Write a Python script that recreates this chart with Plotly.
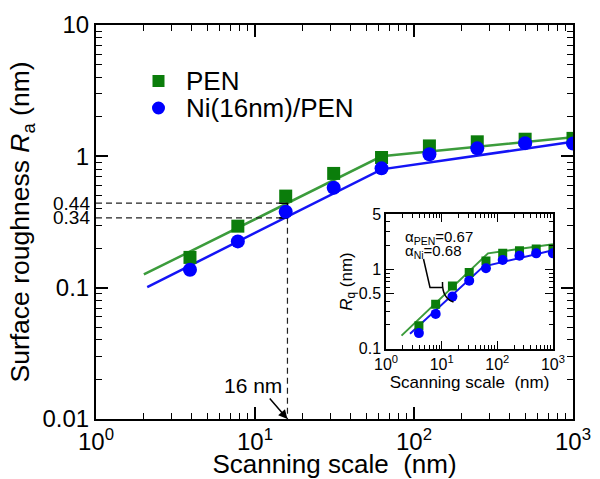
import math
import plotly.graph_objects as go

# ---------------- data ----------------
scan_nm = [3.9, 7.8, 15.6, 31.25, 62.5, 125, 250, 500, 1000]
ra_pen = [0.170, 0.294, 0.498, 0.741, 0.98, 1.20, 1.29, 1.35, 1.37]
ra_ni = [0.137, 0.225, 0.378, 0.577, 0.81, 1.036, 1.15, 1.26, 1.25]

fit_x_pen = [2.0, 62.5, 1000]
fit_ra_pen = [0.126, 1.0, 1.40]
fit_x_ni = [2.1, 62.5, 1000]
fit_ra_ni = [0.101, 0.796, 1.29]

rq_pen = [0.195, 0.366, 0.62, 0.92, 1.28, 1.60, 1.73, 1.82, 1.83]
rq_ni = [0.158, 0.276, 0.456, 0.725, 1.04, 1.32, 1.49, 1.60, 1.60]

inset_fit_x_pen = [1.9, 68, 1000]
inset_fit_rq_pen = [0.147, 1.60, 2.08]
inset_fit_x_ni = [2.7, 56, 1000]
inset_fit_rq_ni = [0.155, 1.09, 1.75]

cutoff_nm = 16
cutoff_ra = [0.44, 0.34]
cutoff_labels = ["0.44", "0.34"]

x_major = [1, 10, 100, 1000]
x_ticktext = ["10<sup>0</sup>", "10<sup>1</sup>", "10<sup>2</sup>", "10<sup>3</sup>"]
y_major = [0.01, 0.1, 1, 10]
y_ticktext = ["0.01", "0.1", "1", "10"]
inset_y_major = [0.1, 0.5, 1, 5]
inset_y_ticktext = ["0.1", "0.5", "1", "5"]

legend_names = ["PEN", "Ni(16nm)/PEN"]
alpha_texts = ["\u03b1<sub>PEN</sub>=0.67", "\u03b1<sub>Ni</sub>=0.68"]

# ---------------- styles ----------------
FONT = "Liberation Sans, Arial, sans-serif"
GREEN_M = "#0b7d0b"
GREEN_L = "#3c9c3c"
BLUE_M = "#0000ff"
BLUE_L = "#1414f5"

x_minor = [m * 10 ** k for k in range(0, 3) for m in range(2, 10)]
y_minor = [m * 10 ** k for k in range(-2, 1) for m in range(2, 10)]
iy_minor = [m * 10 ** k for k in range(-1, 1) for m in range(2, 10) if m * 10 ** k < 5 and m * 10 ** k != 0.5]

fig = go.Figure()

# main fit lines
fig.add_trace(go.Scatter(x=fit_x_pen, y=fit_ra_pen, mode="lines",
                         line=dict(color=GREEN_L, width=2.5), showlegend=False))
fig.add_trace(go.Scatter(x=fit_x_ni, y=fit_ra_ni, mode="lines",
                         line=dict(color=BLUE_L, width=2.5), showlegend=False))

# guide lines
for v in cutoff_ra:
    fig.add_trace(go.Scatter(x=[1, cutoff_nm], y=[v, v], mode="lines",
                             line=dict(color="#222222", width=1.2, dash="6px,4px"),
                             showlegend=False))
fig.add_trace(go.Scatter(x=[cutoff_nm, cutoff_nm], y=[min(cutoff_ra), y_major[0]], mode="lines",
                         line=dict(color="#222222", width=1.2, dash="6px,4px"),
                         showlegend=False))
fig.add_trace(go.Scatter(x=[14.2, cutoff_nm, cutoff_nm, 14.2],
                         y=[cutoff_ra[0], cutoff_ra[0], cutoff_ra[1], cutoff_ra[1]],
                         mode="lines", line=dict(color="black", width=1.6), showlegend=False))

# main markers
fig.add_trace(go.Scatter(x=scan_nm, y=ra_pen, mode="markers", name=legend_names[0], showlegend=False,
                         marker=dict(symbol="square", size=13, color=GREEN_M)))
fig.add_trace(go.Scatter(x=scan_nm, y=ra_ni, mode="markers", name=legend_names[1], showlegend=False,
                         marker=dict(symbol="circle", size=14, color=BLUE_M)))

# inset
fig.add_trace(go.Scatter(x=inset_fit_x_pen, y=inset_fit_rq_pen, mode="lines", xaxis="x2", yaxis="y2",
                         line=dict(color=GREEN_L, width=2), showlegend=False))
fig.add_trace(go.Scatter(x=inset_fit_x_ni, y=inset_fit_rq_ni, mode="lines", xaxis="x2", yaxis="y2",
                         line=dict(color=BLUE_L, width=2), showlegend=False))
fig.add_trace(go.Scatter(x=scan_nm, y=rq_pen, mode="markers", xaxis="x2", yaxis="y2",
                         marker=dict(symbol="square", size=9, color=GREEN_M), showlegend=False))
fig.add_trace(go.Scatter(x=scan_nm, y=rq_ni, mode="markers", xaxis="x2", yaxis="y2",
                         marker=dict(symbol="circle", size=10, color=BLUE_M), showlegend=False))

axis_common = dict(type="log", showgrid=False, zeroline=False, showline=True, linecolor="black",
                   ticks="inside", mirror="allticks", tickcolor="black")

fig.update_layout(
    width=600, height=479,
    margin=dict(l=96, r=27, t=25, b=60),
    paper_bgcolor="white", plot_bgcolor="white",
    font=dict(family=FONT, color="black"),
    showlegend=False,
    xaxis=dict(**axis_common, range=[0, 3], domain=[0, 1], linewidth=2, ticklen=12, tickwidth=1.5,
               tickmode="array", tickvals=x_major, ticktext=x_ticktext,
               tickfont=dict(size=24, family=FONT, color="black"),
               minor=dict(tickmode="array", tickvals=x_minor, ticks="inside", ticklen=6,
                          tickwidth=1.3, tickcolor="black"),
               title=dict(text="Scanning scale&nbsp; (nm)", font=dict(size=26, family=FONT), standoff=7),
               automargin=False),
    yaxis=dict(**axis_common, range=[-2, 1], domain=[0, 1], linewidth=2, ticklen=12, tickwidth=1.5,
               tickmode="array", tickvals=y_major, ticktext=y_ticktext,
               tickfont=dict(size=24, family=FONT, color="black"),
               minor=dict(tickmode="array", tickvals=y_minor, ticks="inside", ticklen=6,
                          tickwidth=1.3, tickcolor="black"),
               title=dict(text="Surface roughness <i>R</i><sub>a</sub> (nm)",
                          font=dict(size=26.5, family=FONT), standoff=5),
               automargin=False),
    xaxis2=dict(**axis_common, range=[0, 3], domain=[0.608, 0.958], anchor="y2", linewidth=1.5,
                ticklen=8, tickwidth=1.2,
                tickmode="array", tickvals=x_major, ticktext=x_ticktext,
                tickfont=dict(size=16, family=FONT, color="black"),
                minor=dict(tickmode="array", tickvals=x_minor, ticks="inside", ticklen=4,
                           tickwidth=1, tickcolor="black"),
                title=dict(text="Scanning scale&nbsp; (nm)", font=dict(size=17, family=FONT), standoff=2),
                automargin=False),
    yaxis2=dict(**axis_common, range=[-1, math.log10(5)], domain=[0.178, 0.520], anchor="x2",
                linewidth=1.5, ticklen=8, tickwidth=1.2,
                tickmode="array", tickvals=inset_y_major, ticktext=inset_y_ticktext,
                tickfont=dict(size=16, family=FONT, color="black"),
                minor=dict(tickmode="array", tickvals=iy_minor, ticks="inside", ticklen=4,
                           tickwidth=1, tickcolor="black"),
                title=dict(text="<i>R</i><sub>q</sub> (nm)", font=dict(size=17, family=FONT), standoff=2),
                automargin=False),
)


def px(xp):
    return (xp - 96) / 477


def py(yp):
    return (419 - yp) / 394


# legend (drawn as key symbols + text)
leg_y = [81, 108]
fig.add_shape(type="rect", xref="paper", yref="paper",
              x0=px(152.5), x1=px(164.5), y0=py(leg_y[0] + 6), y1=py(leg_y[0] - 6),
              fillcolor=GREEN_M, line=dict(width=0))
fig.add_shape(type="circle", xref="paper", yref="paper",
              x0=px(152), x1=px(165), y0=py(leg_y[1] + 6.5), y1=py(leg_y[1] - 6.5),
              fillcolor=BLUE_M, line=dict(width=0))
for yy, name in zip(leg_y, legend_names):
    fig.add_annotation(x=px(184), y=py(yy), xref="paper", yref="paper", text=name,
                       showarrow=False, xanchor="left", yanchor="middle",
                       font=dict(size=26, family=FONT, color="black"))

# 0.44 / 0.34 labels
for v, t in zip(cutoff_ra, cutoff_labels):
    fig.add_annotation(x=0, y=math.log10(v), xref="paper", yref="y", text=t, showarrow=False,
                       xanchor="right", yanchor="middle", xshift=-4,
                       font=dict(size=19, family=FONT, color="black"))

# 16 nm arrow
fig.add_annotation(x=math.log10(cutoff_nm), y=-2, xref="x", yref="y", text="", showarrow=True,
                   ax=-19, ay=-22, arrowhead=2, arrowsize=1.2, arrowwidth=1.5, arrowcolor="black")
fig.add_annotation(x=math.log10(cutoff_nm), y=-2, xref="x", yref="y", text="16 nm", showarrow=False,
                   xshift=-34, yshift=34, font=dict(size=21, family=FONT, color="black"))

# alpha annotation in inset
for i, t in enumerate(alpha_texts):
    fig.add_annotation(x=px(403), y=py(237 + 14 * i), xref="paper", yref="paper", text=t,
                       showarrow=False, xanchor="left", yanchor="middle",
                       font=dict(size=15, family=FONT, color="black"))

fig.add_shape(type="path", xref="paper", yref="paper",
              path=f"M {px(423.5)},{py(259)} L {px(430)},{py(287.5)} L {px(442)},{py(287.5)}",
              line=dict(color="black", width=1.5))
fig.add_shape(type="path", xref="paper", yref="paper",
              path=f"M {px(442.5)},{py(282)} Q {px(442)},{py(298)} {px(453.5)},{py(302)}",
              line=dict(color="black", width=1.5))

fig.write_html("out.html", post_script="document.body.style.margin='0px';",
               config={"displayModeBar": False})
